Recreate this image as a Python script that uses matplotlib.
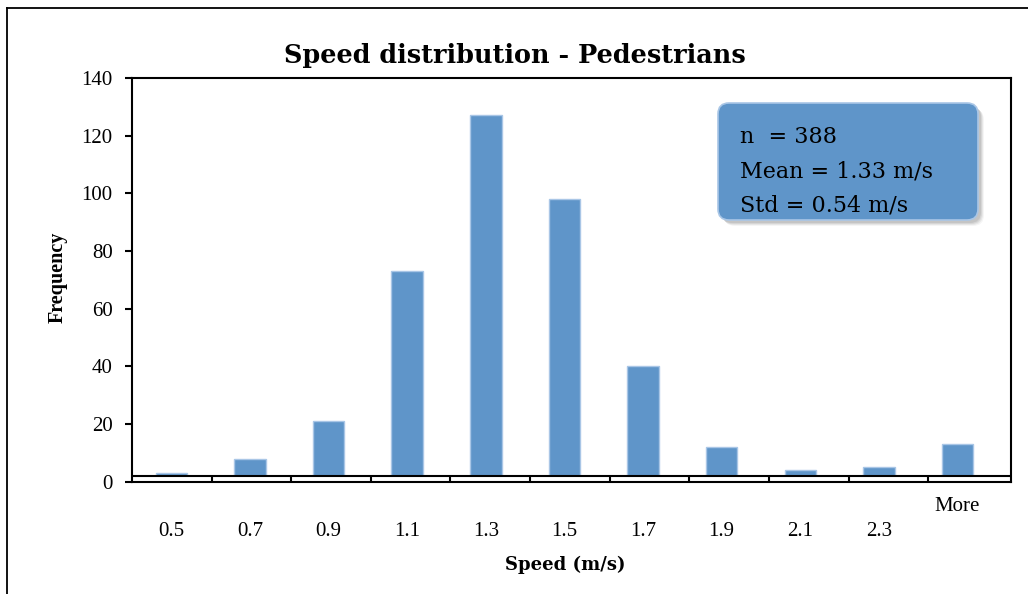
import matplotlib
matplotlib.use("Agg")
import matplotlib.pyplot as plt
from matplotlib.lines import Line2D
from matplotlib.patches import FancyBboxPatch
from matplotlib.transforms import IdentityTransform

# histogram bins (upper edges) and counts
bins = ["0.5", "0.7", "0.9", "1.1", "1.3", "1.5", "1.7", "1.9", "2.1", "2.3", "More"]
counts = [3, 8, 21, 73, 127, 98, 40, 12, 4, 5, 13]
yticks = [0, 20, 40, 60, 80, 100, 120, 140]
stats_lines = ["n  = 388", "Mean = 1.33 m/s", "Std = 0.54 m/s"]

BAR = "#5f95c9"
BAR_EDGE = "#a9c6e6"
W, H = 1028, 594
SERIF = ["Liberation Serif", "DejaVu Serif"]
WIDE = ["DejaVu Serif"]

plt.rcParams["font.family"] = SERIF

fig = plt.figure(figsize=(W / 100, H / 100), dpi=100)
ax = fig.add_axes([132 / W, 112.3 / H, 879 / W, 403.7 / H])
ax.set_axisbelow(False)

x = list(range(len(bins)))
ax.bar(x, counts, width=0.4, color=BAR, edgecolor=BAR_EDGE, linewidth=1.0, zorder=2)

# Excel squeezed the bars a little relative to the plot box; keep that
ax.set_xlim(-0.5, 10.68)
ax.set_ylim(0, 140)
ax.set_yticks(yticks)
ax.tick_params(axis="y", direction="out", length=5, width=1.5, pad=9, labelsize=15)

# category labels: numbers sit one line lower than "More", like the Excel layout
labels = ["\n" + b if b != "More" else b for b in bins]
ax.set_xticks(x, labels)
ax.tick_params(axis="x", which="major", length=0, pad=11, labelsize=15)
for t in ax.get_xticklabels():
    t.set_linespacing(1.45)
sep_step = 1.0127
ax.set_xticks([-0.5 + sep_step * (i + 1) for i in x[:-1]], minor=True)
ax.tick_params(axis="x", which="minor", direction="in", length=4.5, width=1.5)

for s in ax.spines.values():
    s.set_linewidth(1.5)

# the thin double-line strip along the category axis
ax.axhspan(0, 2.0, color="white", zorder=2.3)
ax.axhline(2.0, color="black", lw=1.5, zorder=2.4)

ax.set_xlabel("Speed (m/s)", fontsize=13, fontweight="bold", family=WIDE)
ax.xaxis.set_label_coords((565 - 132) / 879, (29 - 112.3) / 403.7)
ax.xaxis.label.set_va("center")
ax.set_ylabel("Frequency", fontsize=14.5, fontweight="bold")
ax.yaxis.set_label_coords((58 - 132) / 879, 0.507)
ax.yaxis.label.set_va("center")

fig.text(515 / W, 1 - 56 / H, "Speed distribution - Pedestrians",
         ha="center", va="center", fontsize=18.4, fontweight="bold", family=WIDE)

# outer chart frame (right and bottom edges fall outside the image)
fig.add_artist(Line2D([7 / W, 7 / W], [0, 586 / H], color="black", lw=1.3,
                      transform=fig.transFigure))
fig.add_artist(Line2D([7 / W, 1], [586 / H, 586 / H], color="black", lw=1.3,
                      transform=fig.transFigure))

# stats box with a soft shadow, drawn in pixel coordinates
bx, by, bw, bh = 718, 374, 260, 117
for off, a in [(6, 0.08), (5, 0.12), (4, 0.16), (3, 0.2)]:
    fig.add_artist(FancyBboxPatch((bx + off, by - off), bw, bh,
                                  boxstyle="round,pad=0,rounding_size=11",
                                  facecolor="gray", edgecolor="none", alpha=a,
                                  transform=IdentityTransform()))
fig.add_artist(FancyBboxPatch((bx, by), bw, bh, boxstyle="round,pad=0,rounding_size=11",
                              facecolor=BAR, edgecolor=BAR_EDGE, lw=1.2,
                              transform=IdentityTransform()))
for i, line in enumerate(stats_lines):
    fig.text(740 / W, 1 - (137 + 34.5 * i) / H, line, ha="left", va="center",
             fontsize=16, family=WIDE)

fig.savefig("out.png", dpi=100)
